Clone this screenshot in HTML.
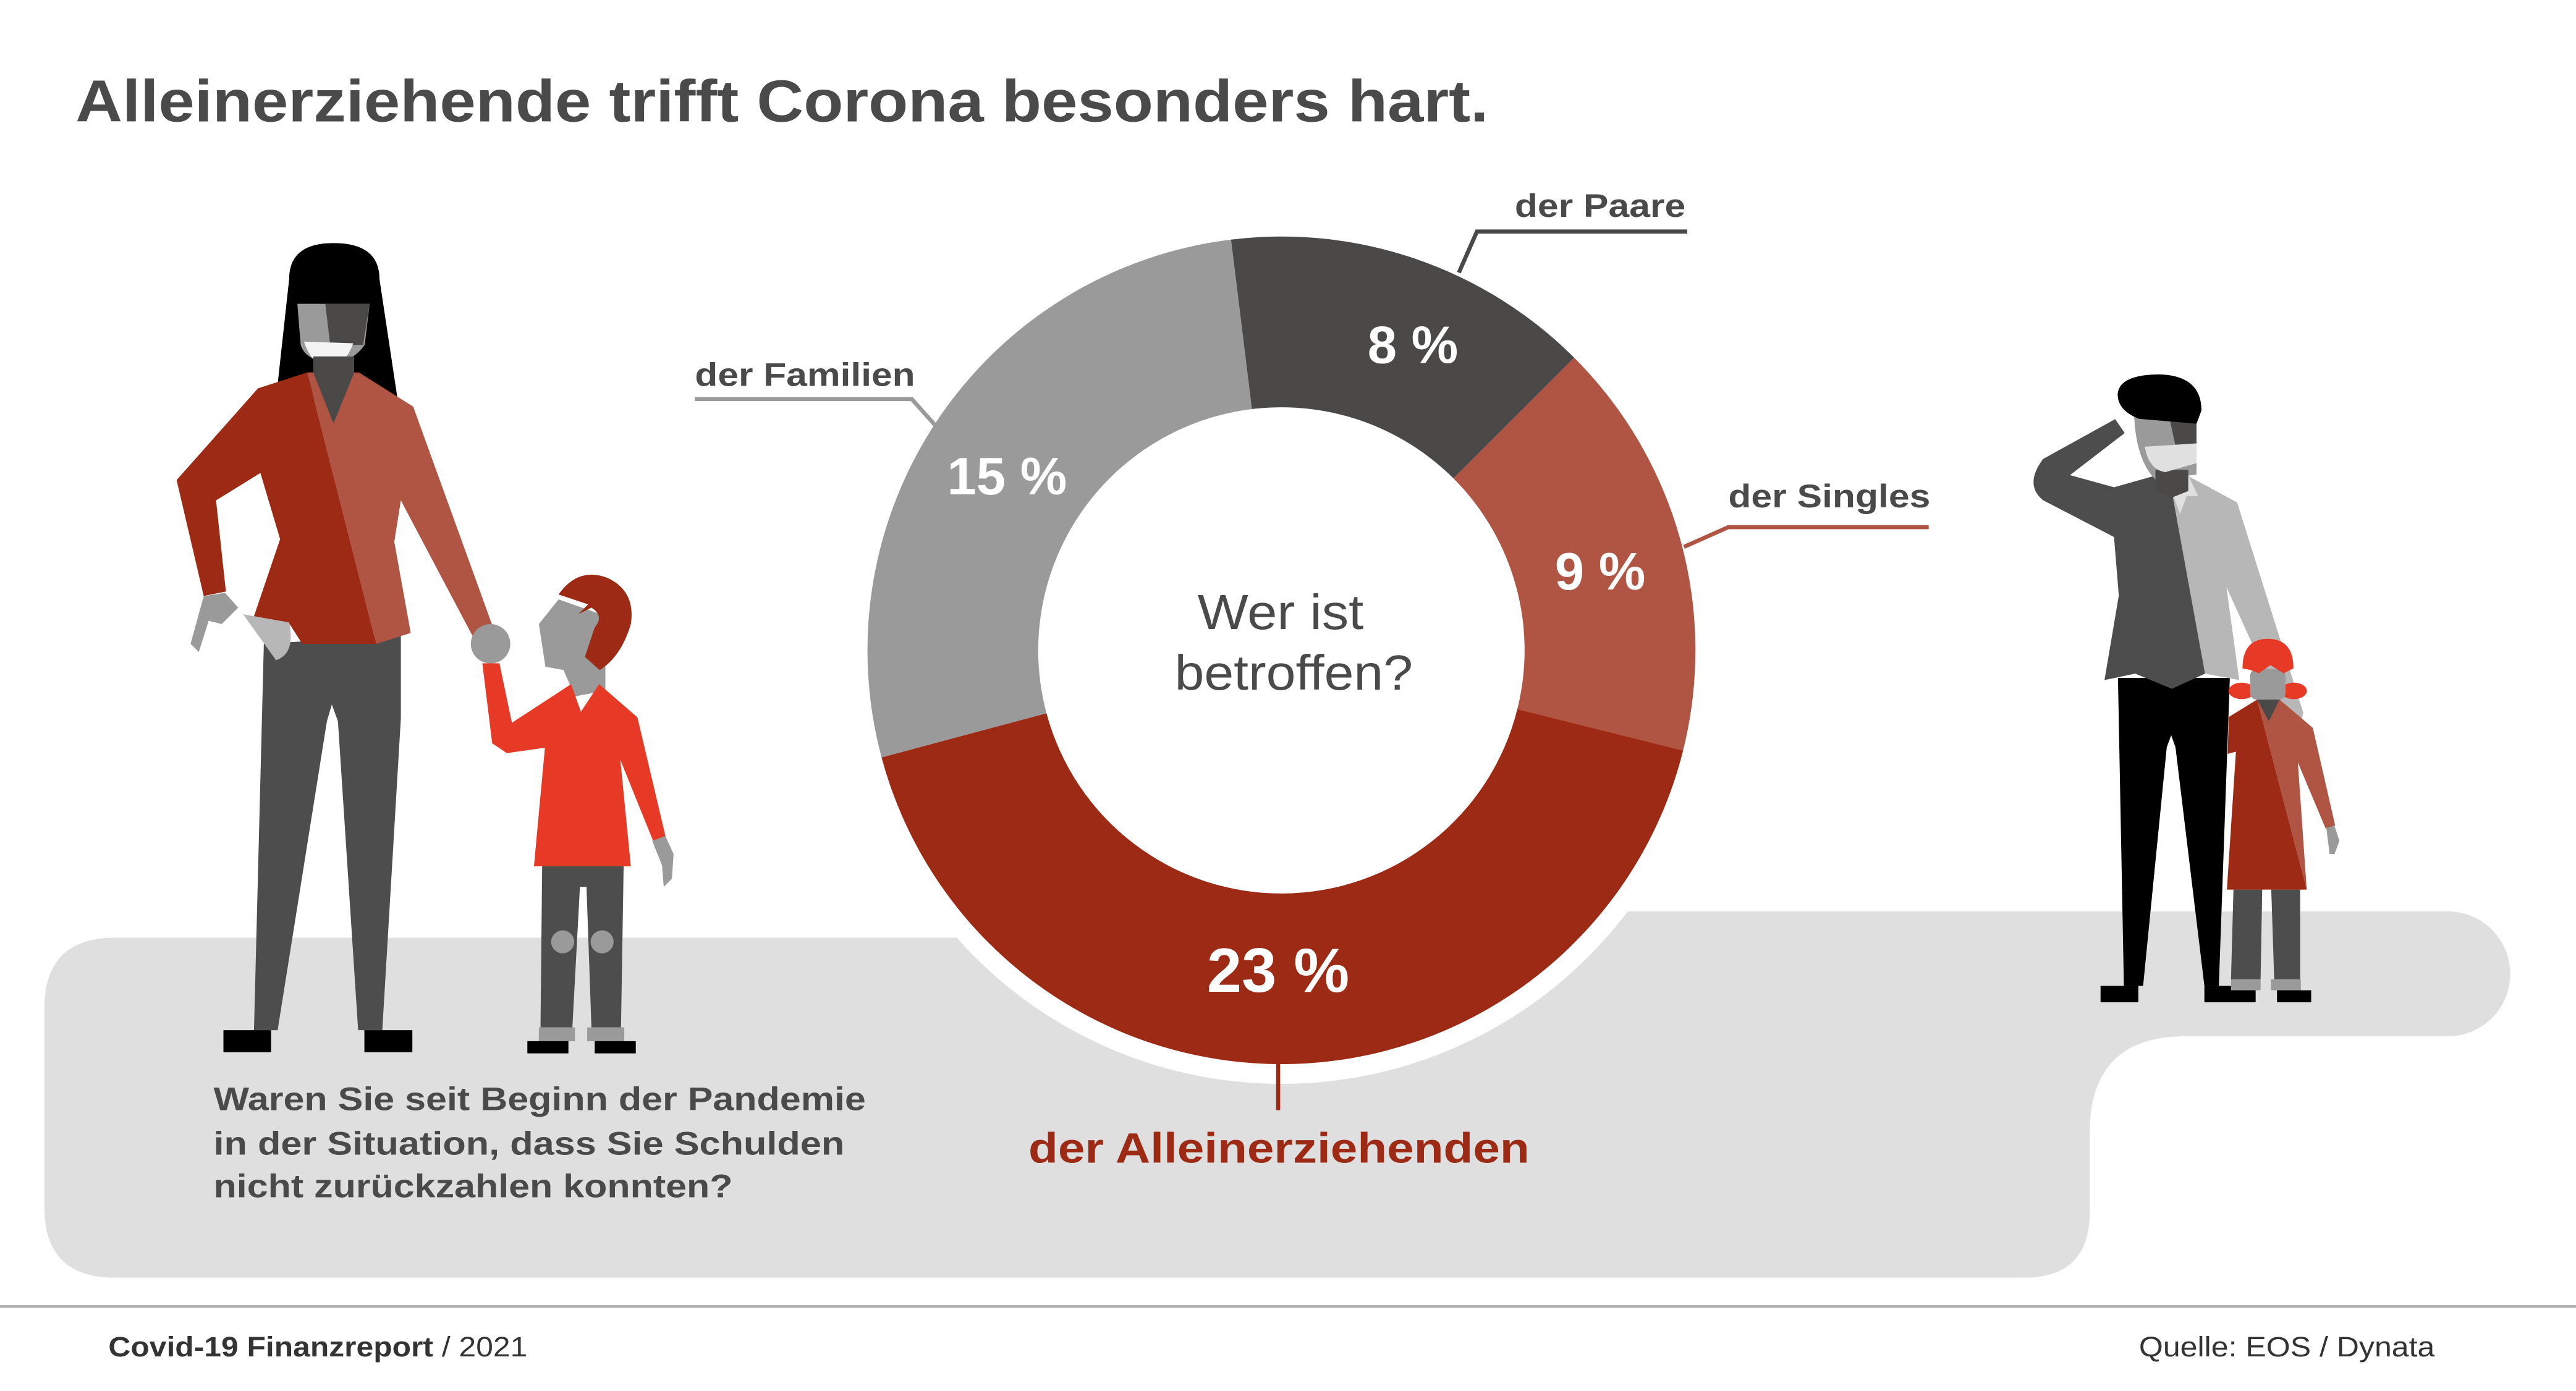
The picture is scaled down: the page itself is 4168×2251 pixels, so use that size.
<!DOCTYPE html>
<html><head><meta charset="utf-8"><style>
html,body{margin:0;padding:0;background:#fff;width:4168px;height:2251px;overflow:hidden}
svg{display:block}
text{font-family:"Liberation Sans",Arial,sans-serif}
</style></head><body>
<svg width="4168" height="2251" viewBox="0 0 1568 847" preserveAspectRatio="none" xmlns="http://www.w3.org/2000/svg">
<rect width="1568" height="847" fill="#fff"/>
<text x="46" y="74" font-size="36" font-weight="bold" fill="#4a4a4a" textLength="860" lengthAdjust="spacingAndGlyphs">Alleinerziehende trifft Corona besonders hart.</text>

<!-- grey background -->
<path d="M70,571 L960,571 L960,555 L1490,555 A38,38 0 0 1 1528,593 A38,38 0 0 1 1490,631 L1330,631 Q1272,631 1272,690 L1272,738 Q1272,778 1232,778 L70,778 Q27,778 27,735 L27,614 Q27,571 70,571 Z" fill="#dfdfdf"/>
<circle cx="780" cy="396" r="264" fill="#fff"/>

<!-- donut -->
<path d="M749.3,145.9 A252,252 0 0 1 958.2,217.8 L884.7,291.3 A148,148 0 0 0 762.0,249.1 Z" fill="#4a4948"/>
<path d="M958.2,217.8 A252,252 0 0 1 1024.5,457.0 L923.6,431.8 A148,148 0 0 0 884.7,291.3 Z" fill="#b05443"/>
<path d="M1024.5,457.0 A252,252 0 0 1 536.6,461.2 L637.0,434.3 A148,148 0 0 0 923.6,431.8 Z" fill="#9c2a15"/>
<path d="M536.6,461.2 A252,252 0 0 1 749.3,145.9 L762.0,249.1 A148,148 0 0 0 637.0,434.3 Z" fill="#9b9a9a"/>

<g font-weight="bold" fill="#fff" text-anchor="middle">
<text x="860" y="221" font-size="32">8 %</text>
<text x="974" y="359" font-size="32">9 %</text>
<text x="613" y="301" font-size="32">15 %</text>
<text x="778" y="604" font-size="38">23 %</text>
</g>
<g fill="#4a4a4a" font-size="30">
<text x="729" y="383" textLength="101" lengthAdjust="spacingAndGlyphs">Wer ist</text>
<text x="715" y="420" textLength="145" lengthAdjust="spacingAndGlyphs">betroffen?</text>
</g>

<!-- labels -->
<g font-weight="bold" font-size="20" fill="#4a4a4a">
<text x="922" y="132" textLength="104" lengthAdjust="spacingAndGlyphs">der Paare</text>
<text x="423" y="235" textLength="134" lengthAdjust="spacingAndGlyphs">der Familien</text>
<text x="1052" y="309" textLength="123" lengthAdjust="spacingAndGlyphs">der Singles</text>
</g>
<polyline points="1027,141 899,141 888,166" fill="none" stroke="#4a4948" stroke-width="2.5"/>
<polyline points="423,243 555,243 572,262" fill="none" stroke="#9b9a9a" stroke-width="2.5"/>
<polyline points="1174,321 1052,321 1025,333" fill="none" stroke="#b05443" stroke-width="2.5"/>
<line x1="778" y1="647" x2="778" y2="676" stroke="#9c2a15" stroke-width="2.5"/>
<text x="626" y="708" font-size="26" font-weight="bold" fill="#9c2a15" textLength="305" lengthAdjust="spacingAndGlyphs">der Alleinerziehenden</text>

<g font-weight="bold" font-size="20" fill="#4a4a4a">
<text x="130" y="676" textLength="397" lengthAdjust="spacingAndGlyphs">Waren Sie seit Beginn der Pandemie</text>
<text x="130" y="703" textLength="384" lengthAdjust="spacingAndGlyphs">in der Situation, dass Sie Schulden</text>
<text x="130" y="729" textLength="316" lengthAdjust="spacingAndGlyphs">nicht zurückzahlen konnten?</text>
</g>

<!-- footer -->
<line x1="0" y1="795.5" x2="1568" y2="795.5" stroke="#aaa" stroke-width="1.5"/>
<text x="66" y="826" font-size="17" fill="#333" textLength="255" lengthAdjust="spacingAndGlyphs"><tspan font-weight="bold">Covid-19 Finanzreport</tspan> / 2021</text>
<text x="1302" y="826" font-size="17" fill="#333" textLength="180" lengthAdjust="spacingAndGlyphs">Quelle: EOS / Dynata</text>

<!-- woman -->
<path d="M176,170 Q176,148 203,148 Q231,148 231,170 L242,243 L168,243 Z" fill="#000"/>
<path d="M181,185 L225,185 L222,210 Q215,220 203,221 Q186,220 183,210 Z" fill="#9b9a9a"/>
<path d="M198,185 L225,185 L221,210 L201,210 Z" fill="#4a4948"/>
<path d="M185,208 L215,209 Q210,223 200,223 Q190,223 185,208 Z" fill="#f4f4f4"/>
<path d="M190.7,217 L215.6,217 L215.6,230 L203,258 L190.7,230 Z" fill="#4a4948"/>
<path d="M160.6,392 L244,387 L244,437.5 L232.7,627.3 L218,627.3 L205.7,439.1 L202,429 L199,439.1 L169,627.3 L154.6,627.3 Z" fill="#4d4d4d"/>
<path d="M157,236.5 L187,226.8 L229,392.1 L184,392.1 L176.5,380.3 L154,377 L170.5,328.3 L158.5,288 L131.5,304.7 L137.5,360.2 L124,362.9 L107.5,292.3 Z" fill="#9c2a15"/>
<path d="M187,226.8 L190.7,226.8 L203,258 L215.6,226.8 L218.5,226.8 L251.5,247.6 L299.5,380.3 L287.5,387 L244,304.7 L240,329.9 L250,385.4 L229,392.1 Z" fill="#b05443"/>
<path d="M124,363 L137,361 L145,370 L135,380 L127,378 L121,397 L116,392 Z" fill="#9b9a9a"/>
<path d="M148,374 L176,379 Q180,398 168,402 Z" fill="#b7b7b7"/>
<circle cx="298.6" cy="392" r="12" fill="#9b9a9a"/>
<path d="M136,627.3 L165,627.3 L165,640.7 L136,640.7 Z M221.8,627.3 L251,627.3 L251,640.7 L221.8,640.7 Z" fill="#000"/>

<!-- boy -->
<path d="M328,380 L340,365 L368.5,375 L368.5,420.6 L350,424 L343,408 L332,406 Z" fill="#9b9a9a"/>
<path d="M340,362 Q352,345 370,352 Q387,360 384,380 Q378,400 365,408 L356,400 L362,382 Q368,375 360,370 L352,374 L358,368 Z" fill="#9c2a15"/>
<path d="M293.6,403.9 L304,403.9 L311.6,440.1 L347.6,416.6 L353.6,433.4 L364.7,416.6 L388,436.8 L405.2,509.7 L397.7,512.4 L377.6,462.7 L384,527.5 L325,527.5 L331.7,455.3 L308.5,458.6 L299.6,452.6 Z" fill="#e63a27"/>
<path d="M330,527.5 L379.6,527.5 L378,625.6 L360,625.6 L357,540 L353,540 L348.4,625.6 L329,625.6 Z" fill="#4d4d4d"/>
<circle cx="342.5" cy="573.5" r="7" fill="#9b9a9a"/><circle cx="366.5" cy="573.5" r="7" fill="#9b9a9a"/>
<path d="M328,625.6 H350 V634 H328 Z M357.4,625.6 H380 V634 H357.4 Z" fill="#9b9a9a"/>
<path d="M321,634 H346 V641.4 H321 Z M362,634 H387 V641.4 H362 Z" fill="#000"/>
<path d="M397,512 L405,509 L410,520 L409,535 L404,540 L403,527 Z" fill="#9b9a9a"/>

<!-- man -->
<path d="M1289.2,412.8 L1357.3,412.8 L1350.6,600.3 L1341.8,600.3 L1324.2,455 L1321.6,447.7 L1318.9,455 L1304.5,600.3 L1292.8,600.3 Z" fill="#000"/>
<path d="M1278.6,600.3 H1301.6 V610.3 H1278.6 Z M1341.8,600.3 H1372.9 V610.3 H1341.8 Z" fill="#000"/>
<path d="M1322,299.3 L1332.2,290 L1361.7,305.9 L1402,434 L1397.7,451 L1355.2,357.4 L1363,414.1 L1342.2,410.2 Z" fill="#b7b7b7"/>
<path d="M1243.6,279.5 L1287.5,255.2 L1293.3,263.7 L1260,289.3 L1286.8,296.7 L1310.5,290 L1322,299.3 L1342.2,410.2 L1322,419.4 L1299.7,410.2 L1281,414.1 L1289.7,362.7 L1286.8,327 L1243.6,304.6 Q1232,295 1243.6,279.5 Z" fill="#4d4d4d"/>
<path d="M1310.5,290 L1332.2,290 L1338,302 L1331,302 L1327,313 L1322,299.3 Z" fill="#e0e0e0"/>
<path d="M1299,252 L1337,252 L1337,289 L1312,292 Q1300,280 1299,252 Z" fill="#9b9a9a"/>
<path d="M1320,252 L1337,252 L1337,275 L1325,275 Z" fill="#4a4948"/>
<path d="M1312,286 L1332,286 L1332,299 L1322,303 L1312,299 Z" fill="#4a4948"/>
<path d="M1305.5,272 L1337,270 L1337,282 L1318,287.5 Q1308,286 1305.5,272 Z" fill="#e0e0e0"/>
<path d="M1289,240 Q1290,228 1315,228 Q1340,229 1340,250 L1337,258 L1302,255 Q1289,250 1289,240 Z" fill="#000"/>

<!-- girl -->
<path d="M1359.5,541.7 L1377,541.7 L1376,596.3 L1358,596.3 Z M1382.5,541.7 L1400.1,541.7 L1400.1,596.3 L1384.3,596.3 Z" fill="#4d4d4d"/>
<path d="M1358,596.3 H1376 V603 H1358 Z M1382.3,596.3 H1400.5 V603 H1382.3 Z" fill="#9b9a9a"/>
<path d="M1358,603 H1373 V610.3 H1358 Z M1386,603 H1406.8 V610.3 H1386 Z" fill="#000"/>
<path d="M1356.6,436.6 L1373.9,426 L1404.1,541.7 L1355.5,541.7 L1361,457.7 L1356,459 Z" fill="#9c2a15"/>
<path d="M1373.9,426 L1387.6,426 L1407.8,443.2 L1421.4,502.6 L1415.7,504.7 L1398.7,464.3 L1404.1,541.7 Z" fill="#b05443"/>
<path d="M1373.9,426 L1387.6,426 L1381,439.2 Z" fill="#4a4948"/>
<path d="M1416,504 L1421,503 L1424,512 L1421,520 L1418,520 Z" fill="#9b9a9a"/>
<ellipse cx="1364.5" cy="420.7" rx="8" ry="5" fill="#e63a27"/>
<ellipse cx="1396.2" cy="420.7" rx="8" ry="5" fill="#e63a27"/>
<rect x="1369.6" y="407.5" width="21.6" height="18.5" rx="4" fill="#9b9a9a"/>
<path d="M1365,407 Q1365,389 1380.4,389 Q1396,389 1396,407 L1390,410 L1382,405 L1375,410 L1370,408 Z" fill="#e63a27"/>
</svg>
</body></html>
